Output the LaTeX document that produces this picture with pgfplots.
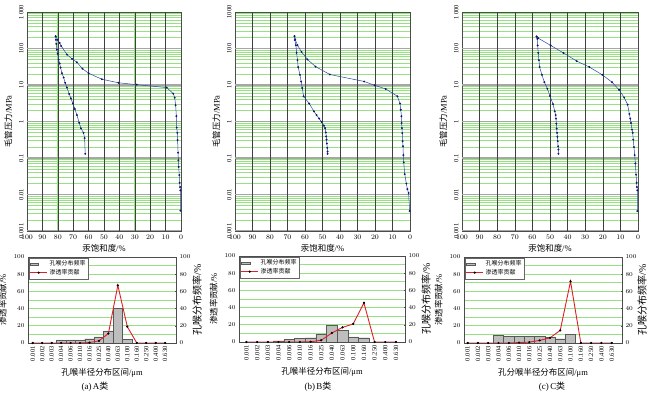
\documentclass[border=0pt]{standalone}
\usepackage{pgfplots}
\pgfplotsset{compat=1.18}
\usepackage{fontspec}
\setmainfont{Liberation Serif}
\newfontfamily\cjk{Noto Sans CJK SC}
\definecolor{gridgreen}{RGB}{150,225,130}
\definecolor{curveblue}{RGB}{40,70,160}
\definecolor{markblue}{RGB}{20,20,110}
\definecolor{bargray}{RGB}{190,190,190}
\definecolor{linered}{RGB}{225,30,40}

\begin{document}
\begin{tikzpicture}
% ---------------- A top ----------------
\begin{axis}[scale only axis, anchor=south west, at={(27bp,164bp)}, width=154bp, height=219bp,
    ymode=log, ymin=0.001, ymax=1000, xmin=0, xmax=100, x dir=reverse,
    xtick={0,10,...,100},
    ytick={0.001,0.01,0.1,1,10,100,1000},
    yticklabels={0.001,0.01,0.1,1,10,100,1\,000},
    minor ytick={0.002,0.003,0.004,0.005,0.006,0.007,0.008,0.009,0.02,0.03,0.04,0.05,0.06,0.07,0.08,0.09,0.2,0.3,0.4,0.5,0.6,0.7,0.8,0.9,2,3,4,5,6,7,8,9,20,30,40,50,60,70,80,90,200,300,400,500,600,700,800,900},
    yticklabel style={rotate=90, anchor=south, font=\fontsize{6.5}{7}\selectfont},
    xticklabel style={font=\fontsize{7}{8}\selectfont},
    major tick length=0pt, minor tick length=0pt,
    xmajorgrids, ymajorgrids, yminorgrids,
    grid style={gridgreen, line width=0.6pt},
    xlabel={{\cjk 汞饱和度}/\%}, ylabel={{\cjk 毛管压力}/MPa},
    label style={font=\fontsize{8.5}{9}\selectfont},
    xlabel style={yshift=2pt},
    axis line style={black!70}]
\pgfplotsinvokeforeach{0.001,0.01,0.1,1,10,100}{\addplot[gray!70, line width=1.2pt, forget plot] coordinates {(0,#1)(100,#1)};}
\pgfplotsinvokeforeach{10,20,...,90}{\addplot[black!75, line width=0.5pt, forget plot] coordinates {(#1,0.001)(#1,1000)};}
\addplot[curveblue, line width=0.5pt, mark=*, mark size=0.7pt, mark options={fill=markblue, draw=markblue}] coordinates {
(0.4,0.0036)(0.4,0.013)(0.6,0.016)(0.9,0.021)(1.1,0.034)(1.5,0.057)(1.7,0.087)
(1.9,0.14)(2.2,0.31)(2.4,0.49)(2.8,0.68)(3.0,1.4)(3.5,2.8)(4.1,4.5)(5.0,5.8)
(9.3,8.5)(28.7,10.2)(40.6,11.5)(51.4,14.4)(60,21)(64,28)(67.6,42)(70.8,52)
(74,68)(77.8,117)(78.8,142)(80.1,173)(81.4,216)};
\addplot[curveblue, line width=0.5pt, mark=*, mark size=0.7pt, mark options={fill=markblue, draw=markblue}] coordinates {
(81.4,216)(81.2,173)(81,134)(80.6,93)(80.1,72)(79.5,50)(78.8,39)(78.2,30)
(77.3,21)(76.2,16)(75.2,11.5)(74.1,8.5)(72.6,5.7)(71.5,4.3)(70.2,3.1)(68.9,2.2)
(67.6,1.5)(66.1,0.92)(65,0.65)(63.3,0.49)(62.6,0.35)(62.2,0.13)};
\end{axis}
% ---------------- B top ----------------
\begin{axis}[scale only axis, anchor=south west, at={(235bp,164bp)}, width=175bp, height=219bp,
    ymode=log, ymin=0.001, ymax=1000, xmin=0, xmax=100, x dir=reverse,
    xtick={0,10,...,100},
    ytick={0.001,0.01,0.1,1,10,100,1000},
    yticklabels={0.001,0.01,0.1,1,10,100,1000},
    minor ytick={0.002,0.003,0.004,0.005,0.006,0.007,0.008,0.009,0.02,0.03,0.04,0.05,0.06,0.07,0.08,0.09,0.2,0.3,0.4,0.5,0.6,0.7,0.8,0.9,2,3,4,5,6,7,8,9,20,30,40,50,60,70,80,90,200,300,400,500,600,700,800,900},
    yticklabel style={rotate=90, anchor=south, font=\fontsize{6.5}{7}\selectfont},
    xticklabel style={font=\fontsize{7}{8}\selectfont},
    major tick length=0pt, minor tick length=0pt,
    xmajorgrids, ymajorgrids, yminorgrids,
    grid style={gridgreen, line width=0.6pt},
    xlabel={{\cjk 汞饱和度}/\%}, ylabel={{\cjk 毛管压力}/MPa},
    label style={font=\fontsize{8.5}{9}\selectfont},
    xlabel style={yshift=2pt},
    axis line style={black!70}]
\pgfplotsinvokeforeach{0.001,0.01,0.1,1,10,100}{\addplot[gray!70, line width=1.2pt, forget plot] coordinates {(0,#1)(100,#1)};}
\pgfplotsinvokeforeach{10,20,...,90}{\addplot[black!75, line width=0.5pt, forget plot] coordinates {(#1,0.001)(#1,1000)};}
\addplot[curveblue, line width=0.5pt, mark=*, mark size=0.7pt, mark options={fill=markblue, draw=markblue}] coordinates {
(0.2,0.0035)(0.8,0.011)(1.5,0.014)(2.1,0.020)(3.0,0.036)(3.6,0.076)(3.8,0.12)
(4.0,0.21)(4.2,0.29)(4.4,0.48)(4.6,0.66)(4.8,0.91)(4.9,1.4)(5.3,2.1)(5.7,3.1)
(7.2,4.9)(13.9,7.8)(20.2,9.8)(26.2,12.5)(45.8,19.4)(54,32)(58.6,50)(62,81)
(64.3,123)(65.6,178)(66,219)};
\addplot[curveblue, line width=0.5pt, mark=*, mark size=0.7pt, mark options={fill=markblue, draw=markblue}] coordinates {
(66,219)(65.8,170)(65.2,123)(64.8,76)(64.3,48)(63.9,31)(62.9,19)(62.2,12.5)
(61.6,8.3)(60.8,4.9)(57.6,3.1)(54.9,1.9)(53.4,1.5)(51.9,1.2)(50.6,0.98)
(49.2,0.77)(48.5,0.66)(48.1,0.50)(47.9,0.39)(47.7,0.32)(47.5,0.25)(47.3,0.19)
(47.1,0.15)(47.1,0.13)};
\end{axis}
% ---------------- C top ----------------
\begin{axis}[scale only axis, anchor=south west, at={(462bp,164bp)}, width=176bp, height=219bp,
    ymode=log, ymin=0.001, ymax=1000, xmin=0, xmax=100, x dir=reverse,
    xtick={0,10,...,100},
    ytick={0.001,0.01,0.1,1,10,100,1000},
    yticklabels={0.001,0.01,0.1,1,10,100,1\,000},
    minor ytick={0.002,0.003,0.004,0.005,0.006,0.007,0.008,0.009,0.02,0.03,0.04,0.05,0.06,0.07,0.08,0.09,0.2,0.3,0.4,0.5,0.6,0.7,0.8,0.9,2,3,4,5,6,7,8,9,20,30,40,50,60,70,80,90,200,300,400,500,600,700,800,900},
    yticklabel style={rotate=90, anchor=south, font=\fontsize{6.5}{7}\selectfont},
    xticklabel style={font=\fontsize{7}{8}\selectfont},
    major tick length=0pt, minor tick length=0pt,
    xmajorgrids, ymajorgrids, yminorgrids,
    grid style={gridgreen, line width=0.6pt},
    xlabel={{\cjk 汞饱和度}/\%}, ylabel={{\cjk 毛管压力}/MPa},
    label style={font=\fontsize{8.5}{9}\selectfont},
    xlabel style={yshift=2pt},
    axis line style={black!70}]
\pgfplotsinvokeforeach{0.001,0.01,0.1,1,10,100}{\addplot[gray!70, line width=1.2pt, forget plot] coordinates {(0,#1)(100,#1)};}
\pgfplotsinvokeforeach{10,20,...,90}{\addplot[black!75, line width=0.5pt, forget plot] coordinates {(#1,0.001)(#1,1000)};}
\addplot[curveblue, line width=0.5pt, mark=*, mark size=0.7pt, mark options={fill=markblue, draw=markblue}] coordinates {
(0.4,0.0035)(0.4,0.013)(0.6,0.016)(0.8,0.021)(1.1,0.035)(1.5,0.071)(1.9,0.12)
(2.3,0.20)(2.7,0.32)(3.0,0.49)(3.4,0.60)(4.0,0.91)(4.4,1.2)(4.9,1.6)(5.9,2.9)
(7.8,4.5)(10.8,7.4)(14.8,12)(20.3,19)(27.6,31)(34.8,45)(42.4,76)(49.6,121)
(56.7,192)(57.6,213)};
\addplot[curveblue, line width=0.5pt, mark=*, mark size=0.7pt, mark options={fill=markblue, draw=markblue}] coordinates {
(57.6,213)(57.2,184)(57,121)(56.7,76)(56.3,48)(55.9,31)(54.6,19)(53.2,12)
(51.5,7.9)(50,5)(48.3,3)(47.3,1.9)(46.8,1.5)(46.6,1.2)(46.4,0.87)(46.2,0.64)
(46,0.49)(45.8,0.38)(45.6,0.29)(45.4,0.21)(45.2,0.17)(45.2,0.13)};
\end{axis}

% ---------------- A bottom ----------------
\begin{axis}[scale only axis, anchor=south west, at={(28bp,52bp)}, width=148bp, height=86bp,
    xmin=-0.5, xmax=15.15, ymin=0, ymax=100, ytick={0,20,...,100}, minor ytick={10,30,...,90},
    ymajorgrids, yminorgrids, grid style={gridgreen, line width=0.7pt},
    xtick={0,...,14},
    xticklabels={0.001,0.002,0.003,0.004,0.006,0.010,0.016,0.025,0.040,0.063,0.100,0.160,0.250,0.400,0.630},
    xticklabel style={rotate=90, anchor=east, font=\fontsize{6.5}{7}\selectfont},
    yticklabel style={font=\fontsize{6.5}{7}\selectfont},
    major tick length=1.5pt, minor tick length=0pt, tick style={black!70},
    axis line style={black!70},
    ylabel={{\cjk 渗透率贡献}/\%}, xlabel={{\cjk 孔喉半径分布区间}/μm},
    label style={font=\fontsize{8.5}{9}\selectfont},
    xtick pos=bottom, ytick pos=left,
    legend style={at={(0.005,0.99)}, anchor=north west, draw=black!60,
      font=\fontsize{6}{6.5}\selectfont\cjk, inner sep=0.8pt, row sep=-2pt},
    legend cell align=left]
\addplot[ybar, bar width=1, bar shift=0pt, fill=bargray, draw=black!65, line width=0.4pt,
  legend image code/.code={\draw[fill=bargray, draw=black!65] (0cm,-0.045cm) rectangle (0.3cm,0.045cm);}]
  coordinates {(3,3.5)(4,3.5)(5,3.5)(6,5)(7,7)(8,14)(9,40)(10,4)};
\addlegendentry{孔喉分布频率}
\addplot[linered, line width=0.9pt, mark=*, mark size=0.6pt, mark options={fill=black, draw=black}]
  coordinates {(0,0)(1,0)(2,0)(3,0)(4,0)(5,0)(6,0.5)(7,2.5)(8,11)(9,67)(10,19)(11,0)(12,0)(13,0)(14,0)};
\addlegendentry{渗透率贡献}
\end{axis}
\begin{axis}[scale only axis, anchor=south west, at={(28bp,52bp)}, width=148bp, height=86bp,
    xmin=-0.5, xmax=15.15, ymin=0, ymax=100, ytick={0,20,...,100},
    axis y line*=right, axis x line=none,
    yticklabel style={font=\fontsize{6.5}{7}\selectfont},
    major tick length=1.5pt, tick style={black!70}, axis line style={black!70},
    ylabel={{\cjk 孔喉分布频率}/\%}, label style={font=\fontsize{8.5}{9}\selectfont},
    every axis y label/.style={at={(rel axis cs:1,0.5)}, xshift=13bp, rotate=90, anchor=north}]
\end{axis}

% ---------------- B bottom ----------------
\begin{axis}[scale only axis, anchor=south west, at={(239bp,53bp)}, width=166bp, height=86bp,
    xmin=-0.7, xmax=14.85, ymin=0, ymax=100, ytick={0,20,...,100}, minor ytick={10,30,...,90},
    ymajorgrids, yminorgrids, grid style={gridgreen, line width=0.7pt},
    xtick={0,...,14},
    xticklabels={0.001,0.002,0.003,0.004,0.006,0.010,0.016,0.025,0.040,0.063,0.100,0.160,0.250,0.400,0.630},
    xticklabel style={rotate=90, anchor=east, font=\fontsize{6.5}{7}\selectfont},
    yticklabel style={font=\fontsize{6.5}{7}\selectfont},
    major tick length=1.5pt, minor tick length=0pt, tick style={black!70},
    axis line style={black!70},
    ylabel={{\cjk 渗透率贡献}/\%}, xlabel={{\cjk 孔喉半径分布区间}/μm},
    label style={font=\fontsize{8.5}{9}\selectfont},
    xtick pos=bottom, ytick pos=left,
    legend style={at={(0.005,0.99)}, anchor=north west, draw=black!60,
      font=\fontsize{6}{6.5}\selectfont\cjk, inner sep=0.8pt, row sep=-2pt},
    legend cell align=left]
\addplot[ybar, bar width=1, bar shift=0pt, fill=bargray, draw=black!65, line width=0.4pt,
  legend image code/.code={\draw[fill=bargray, draw=black!65] (0cm,-0.045cm) rectangle (0.3cm,0.045cm);}]
  coordinates {(3,1.5)(4,2.7)(5,4)(6,5)(7,9)(8,19)(9,13.5)(10,6)(11,5)};
\addlegendentry{孔喉分布频率}
\addplot[linered, line width=0.9pt, mark=*, mark size=0.6pt, mark options={fill=black, draw=black}]
  coordinates {(0,0)(1,0)(2,0)(3,0)(4,0)(5,0)(6,0.3)(7,2)(8,10.5)(9,17)(10,21)(11,45.5)(12,0)(13,0)(14,0)};
\addlegendentry{渗透率贡献}
\end{axis}
\begin{axis}[scale only axis, anchor=south west, at={(239bp,53bp)}, width=166bp, height=86bp,
    xmin=-0.7, xmax=14.85, ymin=0, ymax=100, ytick={0,20,...,100},
    axis y line*=right, axis x line=none,
    yticklabel style={font=\fontsize{6.5}{7}\selectfont},
    major tick length=1.5pt, tick style={black!70}, axis line style={black!70},
    ylabel={{\cjk 孔喉分布频率}/\%}, label style={font=\fontsize{8.5}{9}\selectfont},
    every axis y label/.style={at={(rel axis cs:1,0.5)}, xshift=13bp, rotate=90, anchor=north}]
\end{axis}

% ---------------- C bottom ----------------
\begin{axis}[scale only axis, anchor=south west, at={(464bp,52bp)}, width=158bp, height=86bp,
    xmin=-0.35, xmax=15.0, ymin=0, ymax=100, ytick={0,20,...,100}, minor ytick={10,30,...,90},
    ymajorgrids, yminorgrids, grid style={gridgreen, line width=0.7pt},
    xtick={0,...,14},
    xticklabels={0.001,0.002,0.003,0.004,0.006,0.010,0.016,0.025,0.040,0.063,0.100,0.160,0.250,0.400,0.630},
    xticklabel style={rotate=90, anchor=east, font=\fontsize{6.5}{7}\selectfont},
    yticklabel style={font=\fontsize{6.5}{7}\selectfont},
    major tick length=1.5pt, minor tick length=0pt, tick style={black!70},
    axis line style={black!70},
    ylabel={{\cjk 渗透率贡献}/\%}, xlabel={{\cjk 孔分喉半径分布区间}/μm},
    label style={font=\fontsize{8.5}{9}\selectfont},
    xtick pos=bottom, ytick pos=left,
    legend style={at={(0.005,0.99)}, anchor=north west, draw=black!60,
      font=\fontsize{6}{6.5}\selectfont\cjk, inner sep=0.8pt, row sep=-2pt},
    legend cell align=left]
\addplot[ybar, bar width=1, bar shift=0pt, fill=bargray, draw=black!65, line width=0.4pt,
  legend image code/.code={\draw[fill=bargray, draw=black!65] (0cm,-0.045cm) rectangle (0.3cm,0.045cm);}]
  coordinates {(3,8.5)(4,7.7)(5,7.7)(6,7.7)(7,7.4)(8,6.2)(9,5)(10,9.7)};
\addlegendentry{孔喉分布频率}
\addplot[linered, line width=0.9pt, mark=*, mark size=0.6pt, mark options={fill=black, draw=black}]
  coordinates {(0,0)(1,0)(2,0)(3,0)(4,0)(5,0.5)(6,1)(7,3)(8,6)(9,14.7)(10,71.7)(11,0)(12,0)(13,0)(14,0)};
\addlegendentry{渗透率贡献}
\end{axis}
\begin{axis}[scale only axis, anchor=south west, at={(464bp,52bp)}, width=158bp, height=86bp,
    xmin=-0.35, xmax=15.0, ymin=0, ymax=100, ytick={0,20,...,100},
    axis y line*=right, axis x line=none,
    yticklabel style={font=\fontsize{6}{6.5}\selectfont},
    major tick length=1.5pt, tick style={black!70}, axis line style={black!70},
    ylabel={{\cjk 孔喉分布频率}/\%}, label style={font=\fontsize{7.5}{8}\selectfont},
    every axis y label/.style={at={(rel axis cs:1,0.5)}, xshift=12bp, rotate=90, anchor=north}]
\end{axis}

% captions
\node[font=\fontsize{9}{10}\selectfont] at (95bp,8bp) {(a)\,A{\cjk 类}};
\node[font=\fontsize{9}{10}\selectfont] at (318bp,8bp) {(b)\,B{\cjk 类}};
\node[font=\fontsize{9}{10}\selectfont] at (552bp,8bp) {(c)\,C{\cjk 类}};

\pgfresetboundingbox
\path (0,0) rectangle (650bp,395bp);
\end{tikzpicture}
\end{document}
